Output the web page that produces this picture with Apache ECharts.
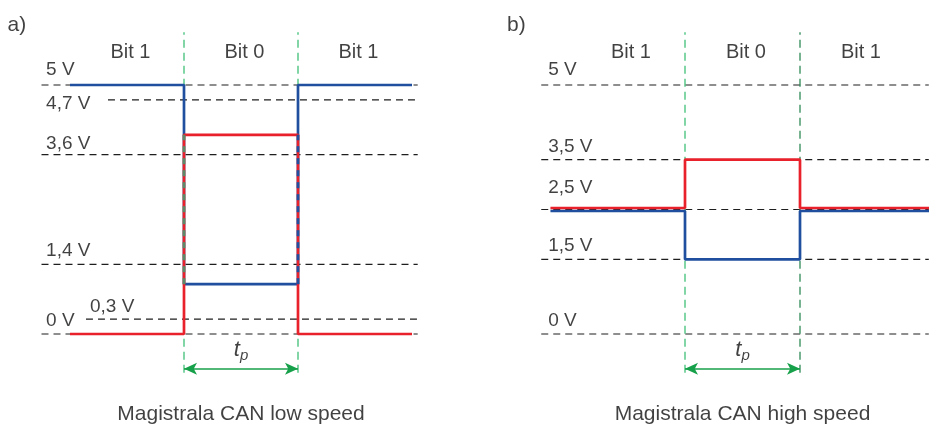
<!DOCTYPE html>
<html>
<head>
<meta charset="utf-8">
<script src="https://cdn.jsdelivr.net/npm/echarts@6/dist/echarts.min.js"></script>
<style>html,body{margin:0;padding:0;background:#fff}#c{width:929px;height:428px}</style>
</head>
<body>
<div id="c"></div>
<script>
// ---- data ----
const bitLabels = ['Bit 1', 'Bit 0', 'Bit 1'];
const panelLetters = ['a)', 'b)'];
const captions = ['Magistrala CAN low speed', 'Magistrala CAN high speed'];

// low speed (panel a)
const lsTime = [0, 1, 1, 2, 2, 3];
const lsCanH = [0, 0, 4.0, 4.0, 0, 0];     // red
const lsCanL = [5, 5, 1.0, 1.0, 5, 5];     // blue
const lsLevels = [5, 4.7, 3.6, 1.4, 0.3, 0];
const lsLevelLabels = ['5 V', '4,7 V', '3,6 V', '1,4 V', '0,3 V', '0 V'];

// high speed (panel b)
const hsTime = [-0.17, 1, 1, 2, 2, 3.3];
const hsCanH = [2.53, 2.53, 3.5, 3.5, 2.53, 2.53]; // red
const hsCanL = [2.47, 2.47, 1.5, 1.5, 2.47, 2.47]; // blue
const hsLevels = [5, 3.5, 2.5, 1.5, 0];
const hsLevelLabels = ['5 V', '3,5 V', '2,5 V', '1,5 V', '0 V'];

const bitEdges = [1, 2];

// ---- styling / layout ----
const PPV = 49.8;           // px per volt
const Y_MIN = -1, Y_MAX = 6.2;
const X_MIN = -0.25;
const X_MAX = [3.05, 3.12];
const PPB = [114, 115];     // px per bit
const EDGE_PX = [184, 685]; // pixel of t=1
const FONT = 'Liberation Sans, Arial, Helvetica, sans-serif';
const TXT = '#111111';
const RED = '#e8212b', BLUE = '#1f4f9e', DASH = '#1e1e1e';
const GREEN = ['#3fbf76', '#3fbf76'], GREEN2 = ['#3fbf76', '#2f8a55'];
const ARROW = '#17a04a';

// line start (x) for level lines, null = default
const lsLineStart = [null, 0.333, null, null, 0.14, null];
const lsLabelX = [-0.21, -0.21, -0.21, -0.21, 0.175, -0.21];
const lsLabelDy = [-15.5, 3.5, -11, -14, -12, -13.5];
const hsLabelX = -0.19;
const hsLabelDy = [-15.5, -12.5, -21.5, -13.5, -13];

const grids = [0, 1].map(i => {
  const left = EDGE_PX[i] - (1 - X_MIN) * PPB[i];
  return {
    left: left,
    width: (X_MAX[i] - X_MIN) * PPB[i],
    top: 85 - (Y_MAX - 5) * PPV,
    height: (Y_MAX - Y_MIN) * PPV
  };
});

const series = [];

function zip(t, v) { return t.map((x, k) => [x, v[k]]); }

function levelLines(gi, levels, starts) {
  levels.forEach((v, k) => {
    const s = (starts && starts[k] != null) ? starts[k] : X_MIN;
    series.push({
      type: 'line', xAxisIndex: gi, yAxisIndex: gi, symbol: 'none', silent: true, z: 1,
      lineStyle: { color: DASH, width: 1.2, type: [7, 5] },
      data: [[s, v], [X_MAX[gi], v]]
    });
  });
}

function edgeLines(gi) {
  bitEdges.forEach((t, k) => {
    series.push({
      type: 'line', xAxisIndex: gi, yAxisIndex: gi, symbol: 'none', silent: true, z: 2,
      lineStyle: { color: (k === 0 ? GREEN[gi] : GREEN2[gi]), width: 1.3, type: [8, 5] },
      data: [[t, -0.78], [t, 6.06]]
    });
  });
}

function signal(gi, t, v, color, z) {
  series.push({
    type: 'line', xAxisIndex: gi, yAxisIndex: gi, symbol: 'none', silent: true, z: z,
    lineStyle: { color: color, width: 2.7 },
    data: zip(t, v)
  });
}

function textSeries(gi, items) {
  series.push({
    type: 'scatter', xAxisIndex: gi, yAxisIndex: gi, symbolSize: 0, silent: true, clip: false, z: 10,
    data: items.map(it => ({
      value: [it.x, it.y],
      label: {
        show: true, formatter: it.text, position: [0, 0],
        align: it.align || 'left', verticalAlign: 'middle',
        offset: [0, it.dy || 0],
        fontSize: it.size || 19, color: TXT, fontFamily: FONT,
        rich: it.rich
      }
    }))
  });
}

function arrow(gi) {
  series.push({
    type: 'line', xAxisIndex: gi, yAxisIndex: gi, symbol: 'none', silent: true, data: [], z: 5,
    markLine: {
      silent: true, symbol: ['arrow', 'arrow'], symbolSize: [9, 13], label: { show: false },
      lineStyle: { color: ARROW, width: 1.6, type: 'solid' },
      data: [[{ coord: [bitEdges[0], -0.70] }, { coord: [bitEdges[1], -0.70] }]]
    }
  });
}

// Panel a
levelLines(0, lsLevels, lsLineStart);
edgeLines(0);
signal(0, lsTime, lsCanL, BLUE, 3);
signal(0, lsTime, lsCanH, RED, 4);
// overlapping vertical segments (dashed over red)
const lo = Math.max(Math.min(...lsCanH), Math.min(...lsCanL));
const hi = Math.min(Math.max(...lsCanH), Math.max(...lsCanL));
bitEdges.forEach((t, k) => {
  series.push({
    type: 'line', xAxisIndex: 0, yAxisIndex: 0, symbol: 'none', silent: true, z: 5,
    lineStyle: { color: k === 0 ? '#5d8a66' : BLUE, width: 2.7, type: [6, 6] },
    data: [[t, lo], [t, hi]]
  });
});
arrow(0);

// Panel b
levelLines(1, hsLevels, null);
edgeLines(1);
signal(1, hsTime, hsCanL, BLUE, 3);
signal(1, hsTime, hsCanH, RED, 4);
arrow(1);

const tpRich = {
  t: { fontSize: 22, fontStyle: 'italic', fontFamily: FONT, color: TXT },
  p: { fontSize: 15, fontStyle: 'italic', fontFamily: FONT, color: TXT, padding: [12, 0, 0, 0] }
};

[0, 1].forEach(gi => {
  const items = [];
  bitLabels.forEach((b, k) => items.push({ x: k + 0.53, y: 5, dy: -32.5, text: b, align: 'center', size: 20 }));
  items.push({ x: 1.5, y: 0, dy: 16, text: '{t|t}{p|p}', align: 'center', rich: tpRich });
  items.push({ x: 1.5, y: 0, dy: 80.5, text: captions[gi], align: 'center', size: 21 });
  items.push({ x: -0.548, y: 5, dy: -60, text: panelLetters[gi], align: 'left', size: 21 });
  if (gi === 0) {
    lsLevels.forEach((v, k) => items.push({ x: lsLabelX[k], y: v, dy: lsLabelDy[k], text: lsLevelLabels[k] }));
  } else {
    hsLevels.forEach((v, k) => items.push({ x: hsLabelX, y: v, dy: hsLabelDy[k], text: hsLevelLabels[k] }));
  }
  textSeries(gi, items);
});

const chart = echarts.init(document.getElementById('c'), null, { renderer: 'canvas' });
chart.setOption({
  animation: false,
  backgroundColor: '#fff',
  grid: grids,
  xAxis: [0, 1].map(i => ({ type: 'value', gridIndex: i, min: X_MIN, max: X_MAX[i], show: false })),
  yAxis: [0, 1].map(i => ({ type: 'value', gridIndex: i, min: Y_MIN, max: Y_MAX, show: false })),
  series: series
});
</script>
</body>
</html>
